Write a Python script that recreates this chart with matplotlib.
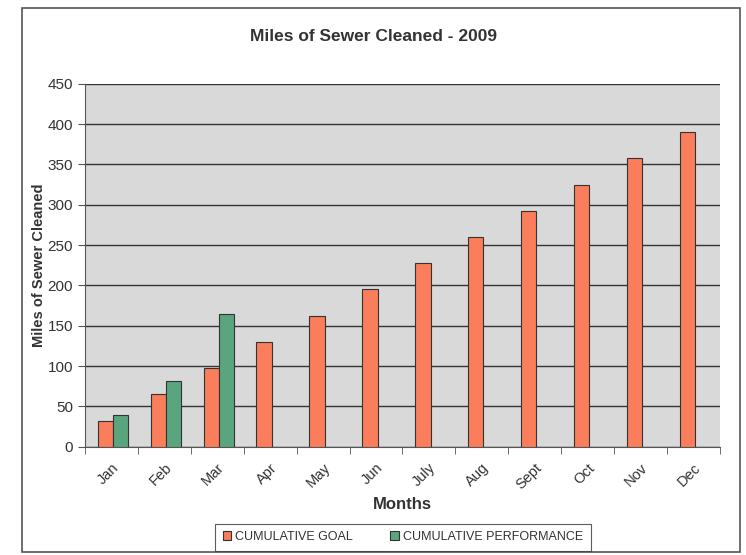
import numpy as np
import matplotlib.pyplot as plt
from matplotlib.patches import Rectangle

plt.rcParams['font.family'] = ['Liberation Sans', 'DejaVu Sans']
plt.rcParams['text.color'] = '#333333'
plt.rcParams['axes.labelcolor'] = '#333333'
plt.rcParams['xtick.color'] = '#333333'
plt.rcParams['ytick.color'] = '#333333'

months = ['Jan', 'Feb', 'Mar', 'Apr', 'May', 'Jun', 'July', 'Aug', 'Sept', 'Oct', 'Nov', 'Dec']
goal = [32.5, 65, 97.5, 130, 162.5, 195, 227.5, 260, 292.5, 325, 357.5, 390]
performance = [40, 81, 165]

fig = plt.figure(figsize=(7.46, 5.55), dpi=100)
ax = fig.add_axes([0.114, 0.195, 0.851, 0.654])

# outer chart frame
fig.patches.append(Rectangle((0.03, 0.005), 0.962, 0.98, transform=fig.transFigure,
                             fill=False, edgecolor='#555555', linewidth=1.2))

x = np.arange(len(months))
w = 0.29
ax.bar(x - w / 2 + 0.03, goal, w, color='#FA7D5C', edgecolor='#333333', linewidth=0.8,
       label='CUMULATIVE GOAL', zorder=3)
ax.bar(x[:len(performance)] + w / 2 + 0.03, performance, w, color='#5BA57E',
       edgecolor='#333333', linewidth=0.8, label='CUMULATIVE PERFORMANCE', zorder=3)

ax.set_facecolor('#D9D9D9')
ax.set_xlim(-0.5, len(months) - 0.5)
ax.set_ylim(0, 450)
ax.set_yticks(range(0, 451, 50))
ax.yaxis.grid(True, color='#333333', linewidth=1.0, zorder=1)
ax.set_axisbelow(True)
for s in ['top', 'right']:
    ax.spines[s].set_visible(False)
ax.spines['left'].set_color('#555555')
ax.spines['bottom'].set_color('#555555')

ax.set_xticks(x)
ax.set_xticklabels(months, rotation=45, ha='right', rotation_mode='anchor', fontsize=10.5)
ax.set_xticks(np.arange(-0.5, len(months), 1), minor=True)
ax.tick_params(axis='x', which='major', length=0, pad=10)
ax.tick_params(axis='x', which='minor', length=5, direction='out', color='#555555')
ax.tick_params(axis='y', labelsize=11, length=5, color='#555555')

ax.set_ylabel('Miles of Sewer Cleaned', fontsize=10.5, fontweight='bold', labelpad=1)
ax.set_xlabel('Months', fontsize=12, fontweight='bold', labelpad=4)
fig.text(0.5, 0.935, 'Miles of Sewer Cleaned - 2009', ha='center', va='center',
         fontsize=12.5, fontweight='bold')

leg = fig.legend(loc='lower center', bbox_to_anchor=(0.54, 0.008), ncol=2, fontsize=9,
                 frameon=True, fancybox=False, edgecolor='#333333', handlelength=0.7,
                 handleheight=0.7, handletextpad=0.3, columnspacing=3.0,
                 borderpad=0.6, borderaxespad=0)
leg.get_frame().set_linewidth(0.8)

fig.savefig('out.png', dpi=100)
